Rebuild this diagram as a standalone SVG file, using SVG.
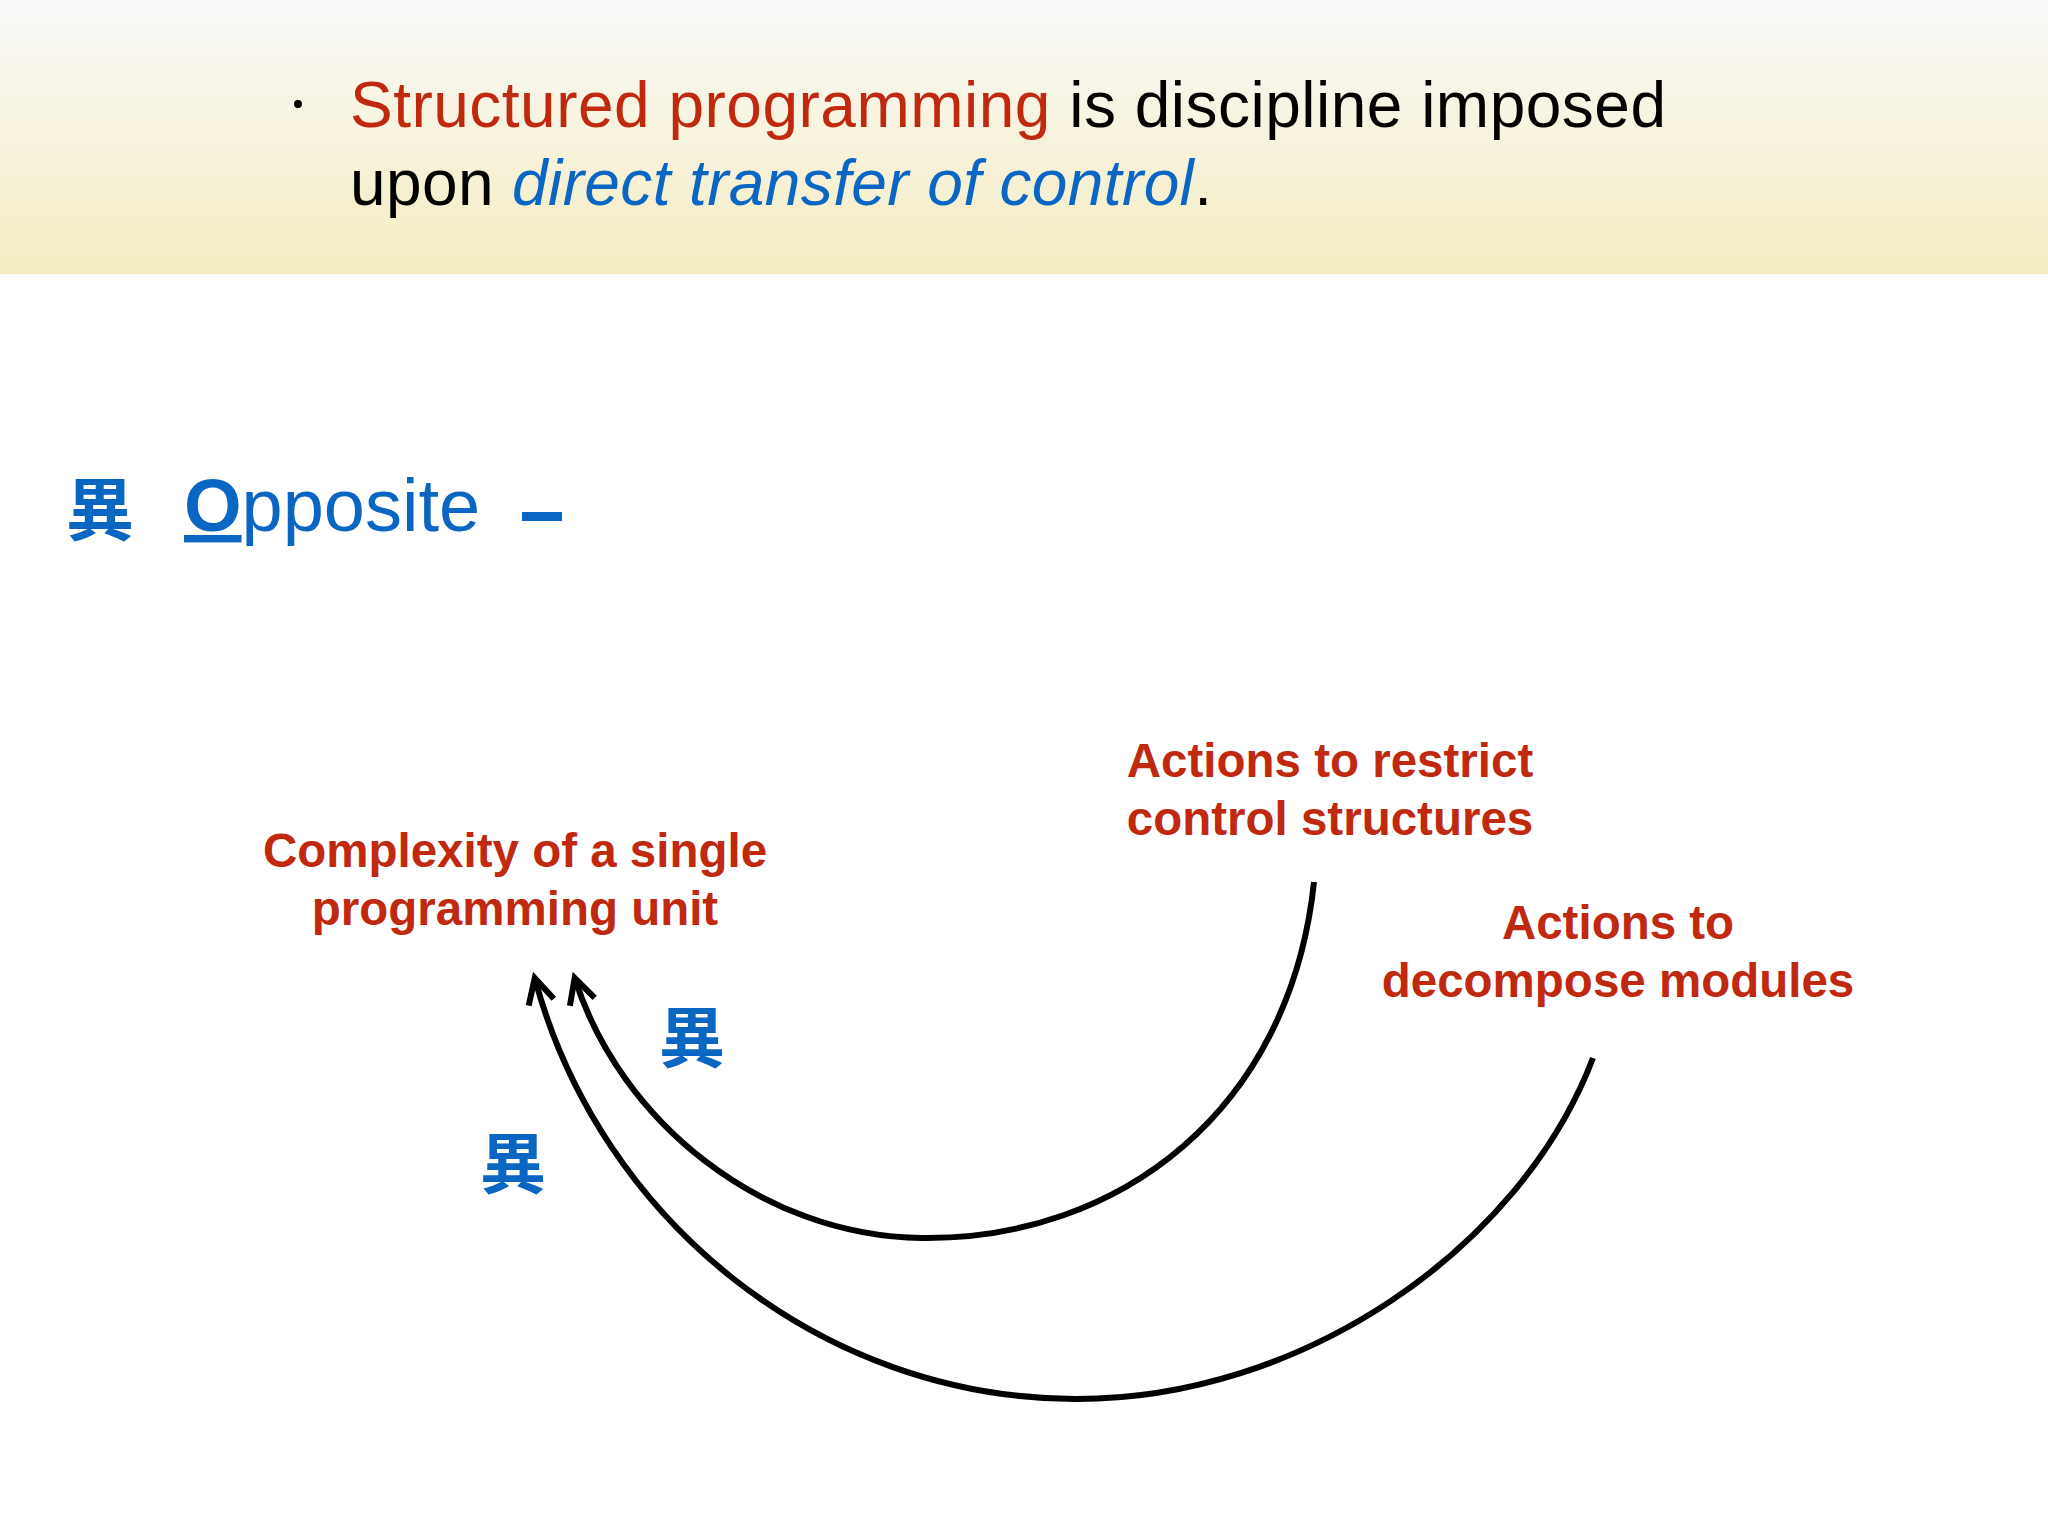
<svg xmlns="http://www.w3.org/2000/svg" width="2048" height="1536" viewBox="0 0 2048 1536">
<defs>
<linearGradient id="hdr" x1="0" y1="0" x2="0" y2="1"><stop offset="0" stop-color="#f9f9f9"/><stop offset="1" stop-color="#f5edc2"/></linearGradient>
<marker id="arr" viewBox="0 0 40 40" refX="30" refY="20" markerWidth="40" markerHeight="40" markerUnits="userSpaceOnUse" orient="auto"><path d="M6 7 L31 20 L6 33" fill="none" stroke="#000" stroke-width="6"/></marker>
<style>
.h{font-family:"Liberation Sans",Arial,sans-serif;font-size:64px}
.lab{font-family:"Liberation Sans",Arial,sans-serif;font-size:47.5px;font-weight:bold;fill:#c0280f;text-anchor:middle}
.kan{font-family:"Noto Sans CJK JP","Noto Sans CJK SC",sans-serif;font-weight:bold;fill:#0b65c2}
.c{fill:none;stroke:#000;stroke-width:6;marker-end:url(#arr)}
</style>
</defs>
<rect width="2048" height="1536" fill="#fff"/>
<rect width="2048" height="274" fill="url(#hdr)"/>
<g id="header">
<circle cx="298" cy="104" r="4" fill="#000"/>
<text class="h" x="350" y="127" textLength="1316"><tspan fill="#c0280f">Structured programming</tspan><tspan fill="#000"> is discipline imposed</tspan></text>
<text class="h" x="350" y="205" textLength="862"><tspan fill="#000">upon </tspan><tspan fill="#0b65c2" font-style="italic">direct transfer of control</tspan><tspan fill="#000">.</tspan></text>
</g>
<g id="title">
<text class="kan" x="66" y="535" font-size="68">異</text>
<text x="184" y="531" font-family="Liberation Sans,Arial,sans-serif" font-size="74" fill="#0b65c2"><tspan text-decoration="underline" font-weight="bold">O</tspan>pposite</text>
<rect x="522" y="512" width="40" height="9" fill="#0b65c2"/>
</g>
<g id="complexity"><text class="lab" x="515" y="867">Complexity of a single</text><text class="lab" x="515" y="925">programming unit</text></g>
<g id="restrict"><text class="lab" x="1330" y="777">Actions to restrict</text><text class="lab" x="1330" y="835">control structures</text></g>
<g id="decompose"><text class="lab" x="1618" y="939">Actions to</text><text class="lab" x="1618" y="997">decompose modules</text></g>
<g id="k1"><text class="kan" x="692" y="1062" font-size="66" text-anchor="middle">異</text></g>
<g id="k2"><text class="kan" x="513" y="1188" font-size="66" text-anchor="middle">異</text></g>
<g id="connectors">
<path class="c" d="M1314 882 C1290 1110 1120 1240 922 1238 C760 1236 620 1120 575 979"/>
<path class="c" d="M1593 1058 C1520 1250 1300 1400 1075 1399 C820 1398 600 1220 535 979"/>
</g>
</svg>
